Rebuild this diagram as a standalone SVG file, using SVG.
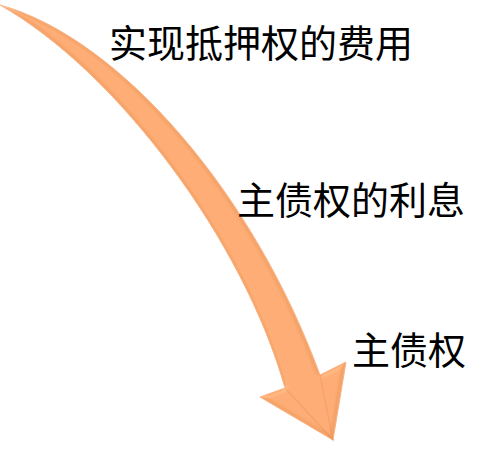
<svg xmlns="http://www.w3.org/2000/svg" width="486" height="449" viewBox="0 0 486 449">
  <defs>
    <filter id="bevel" x="-5%" y="-5%" width="110%" height="110%">
      <feGaussianBlur in="SourceAlpha" stdDeviation="2" result="blur"/>
      <feSpecularLighting in="blur" surfaceScale="3" specularConstant="0.5" specularExponent="12" lighting-color="#FFE2C8" result="spec">
        <feDistantLight azimuth="225" elevation="45"/>
      </feSpecularLighting>
      <feComposite in="spec" in2="SourceAlpha" operator="in" result="specIn"/>
      <feComposite in="SourceGraphic" in2="specIn" operator="arithmetic" k1="0" k2="1" k3="0.35" k4="0"/>
    </filter>
    <style>
      .label { font-family: "Noto Sans CJK SC", "Noto Sans", sans-serif; font-size: 38px; fill: #000000; }
      .arrowBody { fill: #F5A368; stroke: #F8B283; stroke-width: 1; stroke-linejoin: miter; }
    </style>
  </defs>
  <rect width="486" height="449" fill="#FFFFFF"/>
  <g id="connectors">
    <g id="arrow" filter="url(#bevel)">
      <path class="arrowBody" d="M0,5 C120,38 254,194 320,375 L346,362 L333,440 L260,397 L285,388 C244,242 118,72 0,5 Z"/>
      <path d="M285,388 L333,440 L320,375" fill="none" stroke="#E48C55" stroke-width="1.2" opacity="0.55"/>
    </g>
  </g>
  <g id="node-expenses">
    <text class="label" x="109" y="57">实现抵押权的费用</text>
  </g>
  <g id="node-interest">
    <text class="label" x="237" y="214">主债权的利息</text>
  </g>
  <g id="node-principal">
    <text class="label" x="352" y="364">主债权</text>
  </g>
</svg>
